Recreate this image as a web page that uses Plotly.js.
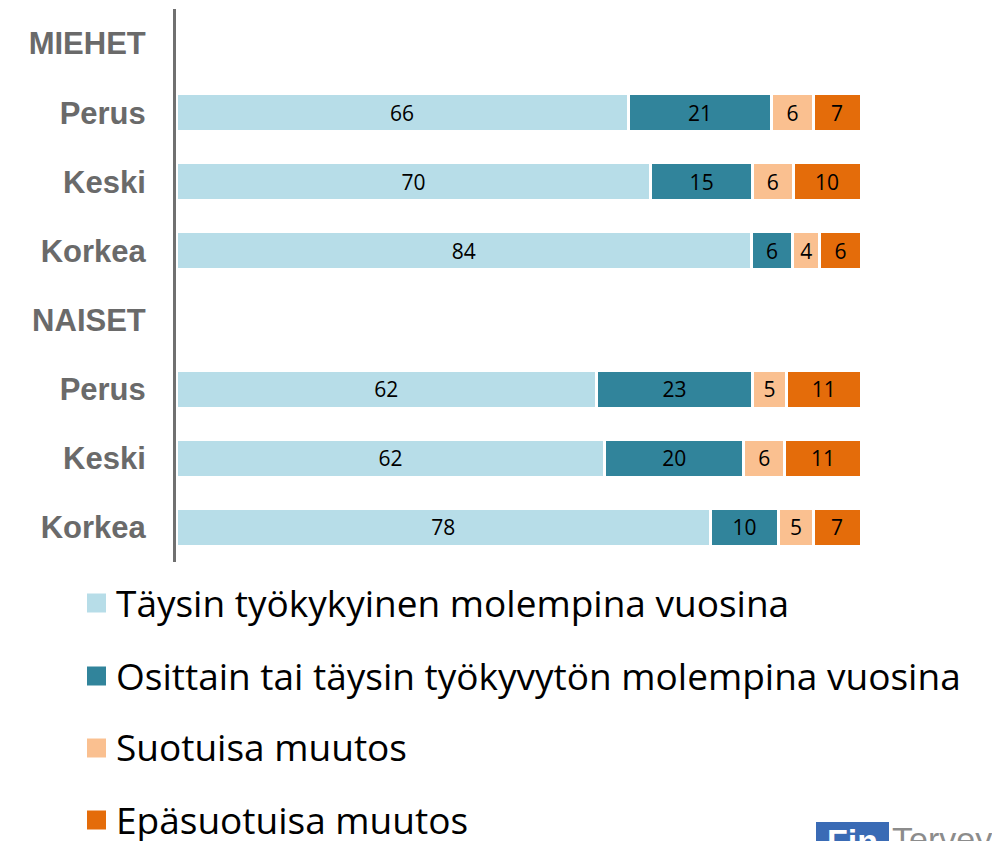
<!DOCTYPE html>
<html>
<head>
<meta charset="utf-8">
<script src="https://cdn.plot.ly/plotly-3.0.1.min.js"></script>
<style>html,body{margin:0;padding:0;background:#fff;}#chart{width:992px;height:841px;}</style>
</head>
<body>
<div id="chart"></div>
<script>
// Row labels (top to bottom); header rows have no bars
const categories = ["MIEHET", "Perus", "Keski", "Korkea", "NAISET", "Perus", "Keski", "Korkea"];
const seriesNames = [
  "Täysin työkykyinen molempina vuosina",
  "Osittain tai täysin työkyvytön molempina vuosina",
  "Suotuisa muutos",
  "Epäsuotuisa muutos"
];
const seriesColors = ["#b7dde8", "#31849b", "#fac090", "#e46c0a"];
const tayskykyinen = [null, 66, 70, 84, null, 62, 62, 78];
const tyokyvyton   = [null, 21, 15, 6,  null, 23, 20, 10];
const suotuisa     = [null, 6,  6,  4,  null, 5,  6,  5];
const epasuotuisa  = [null, 7,  10, 6,  null, 11, 11, 7];
const seriesValues = [tayskykyinen, tyokyvyton, suotuisa, epasuotuisa];

const rowIdx = categories.map((c, i) => i);

const traces = seriesValues.map((vals, k) => ({
  type: "bar",
  orientation: "h",
  name: seriesNames[k],
  y: rowIdx,
  x: vals,
  text: vals.map(v => v == null ? "" : String(v)),
  texttemplate: "%{text}",
  textposition: "inside",
  insidetextanchor: "middle",
  constraintext: "none",
  textfont: {family: "Open Sans, sans-serif", size: 21, color: "#000000"},
  marker: {color: seriesColors[k], line: {color: "#ffffff", width: 3}},
  hoverinfo: "skip",
  showlegend: false
}));

// plot-area geometry (pixels) used to place the manual legend
const L = 176, R = 861, T = 9, B = 562;
const px2x = p => (p - L) / (R - L);
const py2y = p => (B - p) / (B - T);

const legendRows = [603, 676, 748, 820];
const shapes = [];
const annotations = [];
seriesNames.forEach((n, k) => {
  const cy = legendRows[k];
  shapes.push({type: "rect", xref: "paper", yref: "paper",
    x0: px2x(87), x1: px2x(106), y0: py2y(cy + 9.5), y1: py2y(cy - 9.5),
    fillcolor: seriesColors[k], line: {width: 0}});
  annotations.push({xref: "paper", yref: "paper", x: px2x(115), y: py2y(cy - 1),
    xanchor: "left", yanchor: "middle", showarrow: false, text: n,
    borderpad: 0,
    font: {family: "Open Sans, sans-serif", size: 37, color: "#000000"}});
});
// partial logo at the bottom-right corner
shapes.push({type: "rect", xref: "paper", yref: "paper",
  x0: px2x(816), x1: px2x(889), y0: py2y(860), y1: py2y(822),
  fillcolor: "#3a6bb5", line: {width: 0}});
annotations.push({xref: "paper", yref: "paper", x: px2x(852), y: py2y(820),
  xanchor: "center", yanchor: "top", showarrow: false, text: "<b>Fin</b>",
  font: {family: "Liberation Sans, Arial, sans-serif", size: 34, color: "#ffffff"}});
annotations.push({xref: "paper", yref: "paper", x: px2x(890), y: py2y(818),
  xanchor: "left", yanchor: "top", showarrow: false, text: "Terveys",
  font: {family: "Liberation Sans, Arial, sans-serif", size: 34, color: "#8c8c8c"}});

const layout = {
  width: 992, height: 841,
  margin: {l: L, r: 992 - R, t: T, b: 841 - B, pad: 0},
  paper_bgcolor: "#ffffff", plot_bgcolor: "#ffffff",
  barmode: "stack", barnorm: "percent", bargap: 0.45,
  showlegend: false,
  xaxis: {range: [0, 100], visible: false, fixedrange: true},
  yaxis: {
    range: [7.5, -0.5], tickmode: "array", tickvals: rowIdx, ticktext: categories,
    showgrid: false, zeroline: false, showline: true, linecolor: "#707070", linewidth: 3,
    ticks: "", ticklabelstandoff: 21,
    tickfont: {family: "Liberation Sans, Arial, sans-serif", size: 31, color: "#6a6a6a", weight: "bold"},
    fixedrange: true
  },
  shapes: shapes,
  annotations: annotations
};

Plotly.newPlot("chart", traces, layout, {displayModeBar: false, staticPlot: true});
</script>
</body>
</html>
